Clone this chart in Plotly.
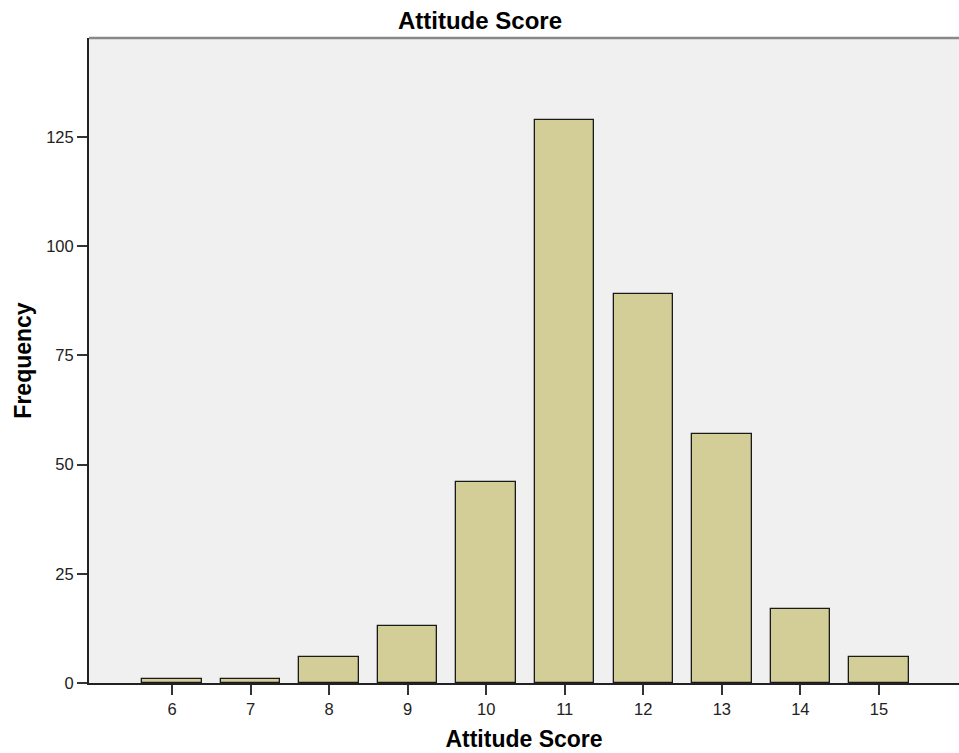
import plotly.graph_objects as go

scores = [6, 7, 8, 9, 10, 11, 12, 13, 14, 15]
frequency = [1, 1, 6, 13, 46, 129, 89, 57, 17, 6]
y_ticks = [0, 25, 50, 75, 100, 125]

fig = go.Figure()
fig.add_trace(go.Bar(
    x=scores, y=frequency, width=0.757,
    marker=dict(color="#D3CE98", line=dict(color="#1a1a1a", width=1.3)),
))

font_family = "Liberation Sans, Arial, sans-serif"
fig.update_layout(
    width=959, height=753,
    margin=dict(l=89, r=0, t=38, b=70),
    paper_bgcolor="white", plot_bgcolor="#F0F0F0",
    showlegend=False,
    font=dict(family=font_family, size=16.5, color="#222"),
    title=dict(text="<b>Attitude Score</b>", x=(397 + 563) / 2 / 959, xanchor="center",
               y=1 - 21 / 753, yanchor="middle",
               font=dict(size=24, color="black", family=font_family)),
    bargap=0,
)
fig.update_xaxes(
    range=[4.943, 16.02], tickvals=scores, ticktext=[str(s) for s in scores],
    showgrid=False, zeroline=False, showline=True, linecolor="#222", linewidth=2,
    ticks="outside", ticklen=10, tickwidth=1.5, tickcolor="#333",
    title=dict(text="<b>Attitude Score</b>", font=dict(size=23, color="black"), standoff=14),
)
fig.update_yaxes(
    range=[0, 147.66], tickvals=y_ticks, ticktext=[str(v) for v in y_ticks],
    showgrid=False, zeroline=False, showline=True, linecolor="#222", linewidth=2,
    ticks="outside", ticklen=10, tickwidth=1.5, tickcolor="#333",
    title=dict(text="<b>Frequency</b>", font=dict(size=23, color="black"), standoff=8),
)
fig.add_shape(type="line", xref="paper", yref="paper", x0=0, x1=1, y0=1, y1=1,
              line=dict(color="#888", width=2.5))

fig.write_html("out.html", config={"displayModeBar": False},
               post_script="document.body.style.margin='0';document.body.style.overflow='hidden';")
